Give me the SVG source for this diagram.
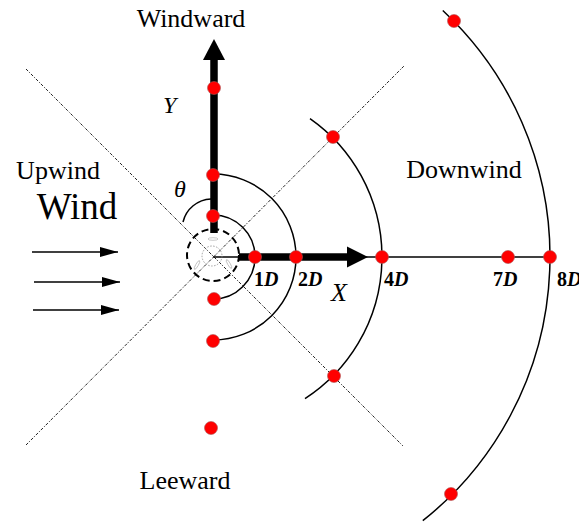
<svg xmlns="http://www.w3.org/2000/svg" width="579" height="523" viewBox="0 0 579 523">
<style>
.t{font-family:"Liberation Serif","Times New Roman",serif;fill:#000}
.lab{font-size:26px}
.big{font-size:37px}
.it{font-style:italic}
.dl{font-family:"Liberation Serif","Times New Roman",serif;font-size:20px;font-weight:bold}
.dot{fill:#ff0000;stroke:#a55;stroke-width:0.6}
.arc{fill:none;stroke:#000;stroke-width:1.5}
.diag{stroke:#222;stroke-width:1;stroke-dasharray:3 1.5 1 1.5;fill:none}
.thick{stroke:#000;stroke-width:7.5}
.wind{stroke:#000;stroke-width:1.5}
.blade{fill:none;stroke:#bbb;stroke-width:0.8}
</style>
<defs>
<marker id="ah" viewBox="0 0 18 10" refX="18" refY="5" markerWidth="18" markerHeight="10" markerUnits="userSpaceOnUse" orient="auto">
<path d="M0,0 L18,5 L0,10 Z" fill="#000"/>
</marker>
</defs>
<rect width="579" height="523" fill="#fff"/>

<g id="connectors">
  <line class="diag" x1="26" y1="69" x2="403" y2="446"/>
  <line class="diag" x1="26" y1="445" x2="404" y2="66"/>
  <path class="arc" d="M213,215 A42,42 0 0 1 213,299"/>
  <path class="arc" d="M213,174 A83,83 0 0 1 213,340"/>
  <path class="arc" d="M310,118.6 A169,169 0 0 1 305,398.7"/>
  <path class="arc" d="M442.8,10.5 A337,337 0 0 1 422.8,520.7"/>
  <path class="arc" d="M211,199 A30,30 0 0 0 183,222"/>
  <line class="thick" x1="214" y1="233" x2="214" y2="58"/>
  <polygon points="214,39 203,60 225,60" fill="#000"/>
  <line stroke="#000" stroke-width="1.5" x1="213" y1="257" x2="240" y2="257"/>
  <line class="thick" x1="239" y1="257" x2="350" y2="257"/>
  <polygon points="368,257 347,246.5 347,267.5" fill="#000"/>
  <line stroke="#000" stroke-width="1.5" x1="366" y1="257" x2="550" y2="257"/>
  <line class="wind" x1="32" y1="252" x2="118" y2="252" marker-end="url(#ah)"/>
  <line class="wind" x1="34" y1="282" x2="120" y2="282" marker-end="url(#ah)"/>
  <line class="wind" x1="33" y1="310" x2="119" y2="310" marker-end="url(#ah)"/>
</g>

<g id="turbine">
  <circle cx="213" cy="255" r="26" fill="none" stroke="#000" stroke-width="2" stroke-dasharray="7 4"/>
  <circle cx="212" cy="256" r="10" fill="none" stroke="#888" stroke-width="0.8" stroke-dasharray="1.5 1.5"/>
  <ellipse class="blade" cx="213" cy="239" rx="5" ry="1.3"/>
  <ellipse class="blade" cx="197" cy="265" rx="5" ry="1.3" transform="rotate(-60 197 265)"/>
  <ellipse class="blade" cx="229" cy="264" rx="5" ry="1.3" transform="rotate(60 229 264)"/>
</g>

<g id="points">
  <circle class="dot" cx="214" cy="88" r="6.5"/>
  <circle class="dot" cx="213" cy="175" r="6.5"/>
  <circle class="dot" cx="213" cy="216" r="6.5"/>
  <circle class="dot" cx="214" cy="299" r="6.5"/>
  <circle class="dot" cx="213" cy="341" r="6.5"/>
  <circle class="dot" cx="211" cy="428" r="6.5"/>
  <circle class="dot" cx="255" cy="257" r="6.5"/>
  <circle class="dot" cx="296" cy="257" r="6.5"/>
  <circle class="dot" cx="382" cy="257" r="6.5"/>
  <circle class="dot" cx="508" cy="257" r="6.5"/>
  <circle class="dot" cx="550" cy="257" r="6.5"/>
  <circle class="dot" cx="333" cy="137" r="6.5"/>
  <circle class="dot" cx="334" cy="376" r="6.5"/>
  <circle class="dot" cx="454" cy="21" r="6.5"/>
  <circle class="dot" cx="451" cy="494" r="6.5"/>
</g>

<g id="labels">
  <text class="t lab" x="191" y="27" text-anchor="middle">Windward</text>
  <text class="t lab" x="185" y="489" text-anchor="middle">Leeward</text>
  <text class="t lab" x="58" y="179" text-anchor="middle">Upwind</text>
  <text class="t big" x="77" y="219" text-anchor="middle">Wind</text>
  <text class="t lab" x="464" y="178" text-anchor="middle">Downwind</text>
  <text class="t it" x="163" y="113" font-size="24">Y</text>
  <text class="t it" x="174" y="197" font-size="24">θ</text>
  <text class="t it" x="331" y="301" font-size="26">X</text>
  <text class="dl" x="254" y="286">1<tspan font-style="italic">D</tspan></text>
  <text class="dl" x="298" y="286">2<tspan font-style="italic">D</tspan></text>
  <text class="dl" x="384" y="286">4<tspan font-style="italic">D</tspan></text>
  <text class="dl" x="493" y="286">7<tspan font-style="italic">D</tspan></text>
  <text class="dl" x="557" y="286">8<tspan font-style="italic">D</tspan></text>
</g>
</svg>
